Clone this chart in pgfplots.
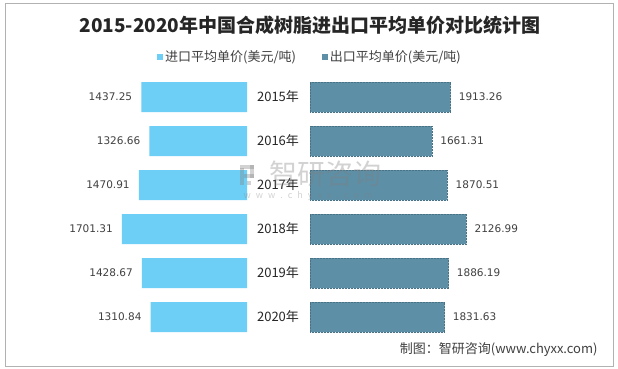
\documentclass[border=0pt]{standalone}
\usepackage{pgfplots}
\pgfplotsset{compat=1.18}
\usepackage{fontspec}
\setmainfont{Noto Sans CJK SC}
\newfontfamily\numfont{DejaVu Sans}
\definecolor{cin}{HTML}{6ECFF6}
\definecolor{cout}{HTML}{5D8FA6}
\definecolor{txt}{HTML}{404040}
\pgfplotstableread{
y v
0 1437.25
1 1326.66
2 1470.91
3 1701.31
4 1428.67
5 1310.84
}\importdata
\pgfplotstableread{
y v
0 1913.26
1 1661.31
2 1870.51
3 2126.99
4 1886.19
5 1831.63
}\exportdata
\begin{document}
\begin{tikzpicture}
\useasboundingbox (0pt,0pt) rectangle (618pt,368pt);
\fill[white] (0pt,0pt) rectangle (618pt,368pt);
\draw[gray!60, line width=1pt] (5.5pt,2pt) rectangle (613pt,365pt);
\node[font=\fontsize{19}{19}\selectfont\bfseries, text=black!85] at (310pt,343pt) {2015-2020年中国合成树脂进出口平均单价对比统计图};
% source
\node[anchor=east, text=txt, font=\fontsize{13}{13}\selectfont] at (601pt,18pt) {制图：智研咨询(www.chyxx.com)};
\begin{axis}[
  at={(47pt,29pt)}, anchor=south west, scale only axis,
  width=200pt, height=264pt,
  xmin=0, xmax=2721, x dir=reverse,
  ymin=-0.5, ymax=5.5, y dir=reverse,
  axis line style={draw=none}, xtick=\empty, ytick=\empty,
  clip=false,
  xbar, bar width=30pt,
  point meta=x,
  nodes near coords={\pgfmathprintnumber[fixed,fixed zerofill,precision=2,1000 sep={},assume math mode=true]{\pgfplotspointmeta}},
  every node near coord/.append style={font=\numfont\fontsize{10.5}{12}\selectfont, text=txt, anchor=east, inner sep=0pt, xshift=-9pt},
]
\addplot[fill=cin, draw=none] table[x=v, y=y] {\importdata};
\end{axis}
\begin{axis}[
  at={(310pt,29pt)}, anchor=south west, scale only axis,
  width=200pt, height=264pt,
  xmin=0, xmax=2721,
  ymin=-0.5, ymax=5.5, y dir=reverse,
  axis line style={draw=none}, xtick=\empty,
  ytick={0,...,5},
  yticklabels={2015年,2016年,2017年,2018年,2019年,2020年},
  major tick length=0pt, tick style={draw=none},
  yticklabel style={font=\fontsize{13}{13}\selectfont, text=black!85, anchor=center, xshift=-32pt},
  clip=false,
  xbar, bar width=30pt,
  point meta=x,
  nodes near coords={\pgfmathprintnumber[fixed,fixed zerofill,precision=2,1000 sep={},assume math mode=true]{\pgfplotspointmeta}},
  every node near coord/.append style={font=\numfont\fontsize{10.5}{12}\selectfont, text=txt, anchor=west, inner sep=0pt, xshift=8pt},
  legend style={at={(axis description cs:0,1.07)}, anchor=center, draw=none, fill=none, font=\fontsize{13}{13}\selectfont, text=txt,
    legend columns=2, /tikz/every even column/.append style={column sep=24pt}},
  legend image code/.code={\path[#1, draw=none] (0pt,-3pt) rectangle (6pt,3pt);},
]
\addlegendimage{fill=cin, draw=none}
\addlegendentry{进口平均单价(美元/吨)}
\addplot[fill=cout, draw=cout!80!black, densely dotted, line width=0.5pt] table[x=v, y=y] {\exportdata};
\addlegendentry{出口平均单价(美元/吨)}
\end{axis}
% watermark (on top, translucent)
\begin{scope}[opacity=0.35]
\node[text=gray, font=\fontsize{28}{28}\selectfont] at (325pt,194pt) {智研咨询};
\node[text=gray, font=\fontsize{9}{9}\selectfont] at (308pt,172pt) {w\hspace{5pt}w\hspace{5pt}w\hspace{5pt}.\hspace{5pt}c\hspace{5pt}h\hspace{5pt}y\hspace{5pt}x\hspace{5pt}x\hspace{5pt}.\hspace{5pt}c\hspace{5pt}o\hspace{5pt}m};
\fill[gray] (240pt,183pt) rectangle (244pt,200pt);
\fill[gray] (240pt,199pt) rectangle (254pt,203pt);
\fill[gray] (250pt,190pt) rectangle (254pt,203pt);
\fill[gray] (244pt,190pt) rectangle (254pt,194pt);
\fill[gray] (247pt,183pt) rectangle (251pt,187pt);
\end{scope}
\end{tikzpicture}
\end{document}
